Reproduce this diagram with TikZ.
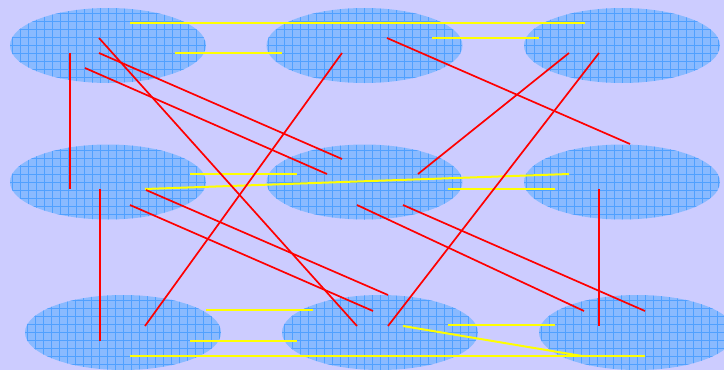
\documentclass[tikz,border=0pt]{standalone}
\usetikzlibrary{shapes.geometric}
\definecolor{bg}{RGB}{204,204,255}
\definecolor{cellfill}{RGB}{138,186,255}
\definecolor{cellgrid}{RGB}{80,160,255}
\definecolor{redc}{RGB}{255,0,0}
\definecolor{yelc}{RGB}{255,255,0}
\begin{document}
\begin{tikzpicture}[x=1pt,y=-1pt,
  cell/.style={ellipse, draw=none, minimum width=196pt, minimum height=75pt, inner sep=0pt, fill=cellfill,
    path picture={
      \foreach \k in {-13,...,13}{\draw[cellgrid, line width=0.55pt] ([xshift=\k*8pt]path picture bounding box.north) -- ([xshift=\k*8pt]path picture bounding box.south);}
      \foreach \k in {-5,...,5}{\draw[cellgrid, line width=0.55pt] ([yshift=\k*8pt]path picture bounding box.west) -- ([yshift=\k*8pt]path picture bounding box.east);}
    }},
  redline/.style={draw=redc, line width=1.7pt},
  yelline/.style={draw=yelc, line width=2pt}]
\useasboundingbox (0,0) rectangle (724,370);
\clip (0,0) rectangle (724,370);
\fill[bg] (0,0) rectangle (724,370);
% cells
\node[cell] (e1) at (108,45.5) {};
\node[cell] (e2) at (364.5,45.5) {};
\node[cell] (e3) at (622,45.5) {};
\node[cell] (e4) at (108,182) {};
\node[cell] (e5) at (364.5,182) {};
\node[cell] (e6) at (622,182) {};
\node[cell] (e7) at (123,332.5) {};
\node[cell] (e8) at (380,332.5) {};
\node[cell] (e9) at (637,332.5) {};
% end points
\coordinate (ya1) at (130,23);  \coordinate (yb1) at (585,23);
\coordinate (ya2) at (175,53);  \coordinate (yb2) at (282,53);
\coordinate (ya3) at (432,38);  \coordinate (yb3) at (539,38);
\coordinate (ya4) at (190,174); \coordinate (yb4) at (297,174);
\coordinate (ya5) at (145,189); \coordinate (yb5) at (569,174);
\coordinate (ya6) at (448,189); \coordinate (yb6) at (555,189);
\coordinate (ya7) at (206,310); \coordinate (yb7) at (313,310);
\coordinate (ya8) at (190,341); \coordinate (yb8) at (297,341);
\coordinate (ya9) at (130,356); \coordinate (yb9) at (645,356);
\coordinate (ya10) at (448,325); \coordinate (yb10) at (555,325);
\coordinate (ya11) at (403,326); \coordinate (yb11) at (582,356);
\coordinate (ra1) at (70,53);   \coordinate (rb1) at (70,189);
\coordinate (ra2) at (99,38);   \coordinate (rb2) at (357,326);
\coordinate (ra3) at (99,53);   \coordinate (rb3) at (342,159);
\coordinate (ra4) at (85,68);   \coordinate (rb4) at (327,174);
\coordinate (ra5) at (342,53);  \coordinate (rb5) at (145,326);
\coordinate (ra6) at (387,38);  \coordinate (rb6) at (630,144);
\coordinate (ra7) at (569,53);  \coordinate (rb7) at (418,174);
\coordinate (ra8) at (599,53);  \coordinate (rb8) at (388,326);
\coordinate (ra9) at (100,189); \coordinate (rb9) at (100,341);
\coordinate (ra10) at (146,190); \coordinate (rb10) at (388,295);
\coordinate (ra11) at (130,205); \coordinate (rb11) at (373,311);
\coordinate (ra12) at (357,205); \coordinate (rb12) at (584,311);
\coordinate (ra13) at (403,205); \coordinate (rb13) at (645,311);
\coordinate (ra14) at (599,189); \coordinate (rb14) at (599,326);
% yellow connectors
\foreach \i in {1,...,11}{\draw[yelline] (ya\i) -- (yb\i);}
% red connectors
\foreach \i in {1,...,14}{\draw[redline] (ra\i) -- (rb\i);}
\end{tikzpicture}
\end{document}
